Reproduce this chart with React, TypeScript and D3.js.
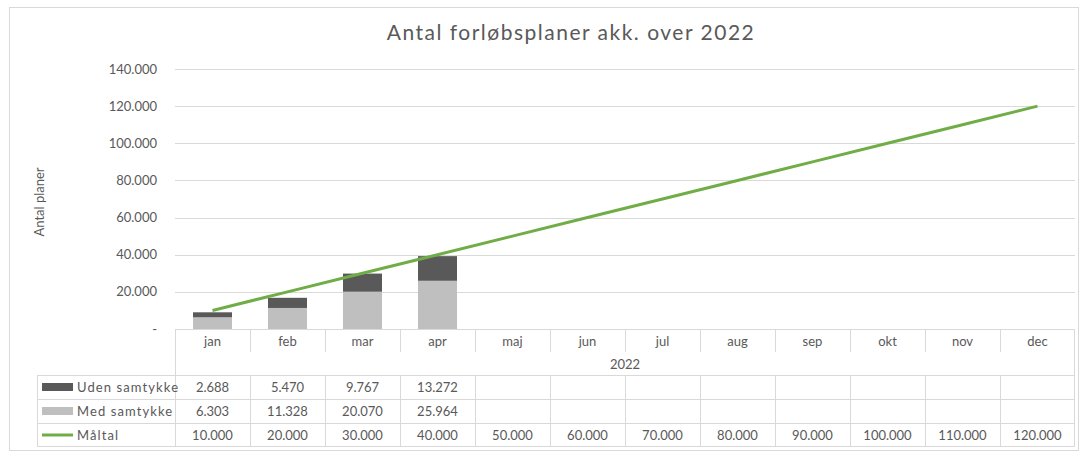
import React from "react";
import * as d3 from "d3";

const months = ["jan", "feb", "mar", "apr", "maj", "jun", "jul", "aug", "sep", "okt", "nov", "dec"];
const udenSamtykke: (number | null)[] = [2688, 5470, 9767, 13272, null, null, null, null, null, null, null, null];
const medSamtykke: (number | null)[] = [6303, 11328, 20070, 25964, null, null, null, null, null, null, null, null];
const maltal: number[] = [10000, 20000, 30000, 40000, 50000, 60000, 70000, 80000, 90000, 100000, 110000, 120000];
const yTicks = [0, 20000, 40000, 60000, 80000, 100000, 120000, 140000];
const yearLabel = "2022";
const title = "Antal forløbsplaner akk. over 2022";
const yAxisTitle = "Antal planer";

const FONT = "Lato, 'Open Sans', sans-serif";
const TEXT = "#595959";
const GRID = "#D9D9D9";
const DARK = "#595959";
const LIGHT = "#BFBFBF";
const GREEN = "#70AD47";

const fmt = (v: number) => (v === 0 ? "-" : d3.format(",")(v).replace(/,/g, "."));

export default function App() {
  const W = 1080, H = 452;
  const left = 175, right = 1075, top = 69, bottom = 329;
  const x = d3.scaleBand<string>().domain(months).range([left, right]).padding(0);
  const y = d3.scaleLinear().domain([0, 140000]).range([bottom, top]);
  const bw = x.bandwidth() * 0.52;
  const cx = (m: string) => (x(m) as number) + x.bandwidth() / 2;

  const line = d3.line<number>().x((_, i) => cx(months[i])).y((d) => y(d));

  const monthRowBottom = 352;
  const yearRowBottom = 375;
  const rowH = 24;
  const legendLeft = 37;
  const rows = [
    { name: "Uden samtykke", vals: udenSamtykke as (number | null)[], kind: "dark" },
    { name: "Med samtykke", vals: medSamtykke as (number | null)[], kind: "light" },
    { name: "Måltal", vals: maltal as (number | null)[], kind: "line" },
  ];
  const tableBottom = yearRowBottom + rowH * rows.length;

  return (
    <svg width={W} height={H} style={{ position: "absolute", left: 0, top: 0, background: "#fff" }} fontFamily={FONT}>
      <rect x={9.5} y={7.5} width={1069} height={443} fill="#fff" stroke={GRID} />
      <text x={571} y={40} textAnchor="middle" fontSize={21} fill={TEXT} letterSpacing={1.5}>{title}</text>
      <text transform={`translate(44,202) rotate(-90)`} textAnchor="middle" fontSize={13} fill={TEXT}>{yAxisTitle}</text>

      {yTicks.map((t) => (
        <g key={t}>
          {t !== 0 && <line x1={left} x2={right} y1={Math.round(y(t)) + 0.5} y2={Math.round(y(t)) + 0.5} stroke={GRID} />}
          <text x={157} y={y(t)} dy="0.35em" textAnchor="end" fontSize={13} fill={TEXT}>{fmt(t)}</text>
        </g>
      ))}

      {months.map((m, i) => {
        const med = medSamtykke[i];
        const ud = udenSamtykke[i];
        if (med == null || ud == null) return null;
        const x0 = cx(m) - bw / 2;
        return (
          <g key={m}>
            <rect x={x0} y={y(med)} width={bw} height={y(0) - y(med)} fill={LIGHT} />
            <rect x={x0} y={y(med + ud)} width={bw} height={y(med) - y(med + ud)} fill={DARK} />
          </g>
        );
      })}

      {/* table */}
      <g stroke={GRID} fill="none">
        <line x1={left} x2={right} y1={bottom + 0.5} y2={bottom + 0.5} />
        {months.map((m, i) => i > 0 && (
          <line key={m} x1={Math.round(x(m) as number) + 0.5} x2={Math.round(x(m) as number) + 0.5} y1={bottom} y2={monthRowBottom} />
        ))}
        <line x1={left + 0.5} x2={left + 0.5} y1={bottom} y2={tableBottom} />
        <line x1={right - 0.5} x2={right - 0.5} y1={bottom} y2={tableBottom} />
        <line x1={legendLeft + 0.5} x2={legendLeft + 0.5} y1={yearRowBottom} y2={tableBottom} />
        {rows.map((r, ri) => (
          <line key={r.name} x1={legendLeft} x2={right} y1={yearRowBottom + ri * rowH + 0.5} y2={yearRowBottom + ri * rowH + 0.5} />
        ))}
        <line x1={legendLeft} x2={right} y1={tableBottom - 0.5} y2={tableBottom - 0.5} />
        {months.map((m, i) => i > 0 && (
          <line key={"v" + m} x1={Math.round(x(m) as number) + 0.5} x2={Math.round(x(m) as number) + 0.5} y1={yearRowBottom} y2={tableBottom} />
        ))}
      </g>
      {months.map((m) => (
        <text key={m} x={cx(m)} y={341} dy="0.35em" textAnchor="middle" fontSize={13} fill={TEXT}>{m}</text>
      ))}
      <text x={(left + right) / 2} y={364} dy="0.35em" textAnchor="middle" fontSize={13} fill={TEXT}>{yearLabel}</text>

      {rows.map((r, ri) => {
        const cy = yearRowBottom + ri * rowH + rowH / 2;
        return (
          <g key={r.name}>
            {r.kind === "line" ? (
              <line x1={42} x2={73} y1={cy} y2={cy} stroke={GREEN} strokeWidth={3} />
            ) : (
              <rect x={42} y={cy - 4} width={31} height={8} fill={r.kind === "dark" ? DARK : LIGHT} />
            )}
            <text x={77} y={cy} dy="0.35em" fontSize={13} fill={TEXT} letterSpacing={1.1}>{r.name}</text>
            {r.vals.map((v, i) => v == null ? null : (
              <text key={i} x={cx(months[i])} y={cy} dy="0.35em" textAnchor="middle" fontSize={13} fill={TEXT}>{fmt(v)}</text>
            ))}
          </g>
        );
      })}

      <path d={line(maltal) || ""} fill="none" stroke={GREEN} strokeWidth={3} />
    </svg>
  );
}
